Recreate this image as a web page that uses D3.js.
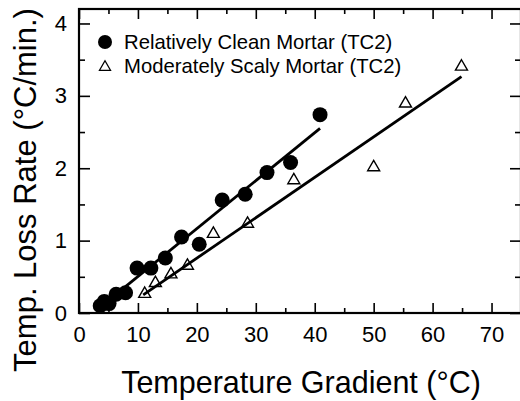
<!DOCTYPE html>
<html>
<head>
<meta charset="utf-8">
<script src="https://cdn.jsdelivr.net/npm/d3@7"></script>
<style>
  html, body { margin: 0; padding: 0; background: #fff; }
  svg { display: block; }
  svg text { font-family: "Liberation Sans", Arial, Helvetica, sans-serif; }
</style>
</head>
<body>
<svg id="chart" width="520" height="401"></svg>
<script>
// Relatively clean mortar (TC2): temperature gradient (°C) vs temperature loss rate (°C/min)
const cleanGradient = [3.6, 4.3, 5.1, 6.3, 7.9, 9.85, 12.2, 14.65, 17.4, 20.4, 24.3, 28.2, 31.9, 35.9, 40.9];
const cleanRate     = [0.10, 0.16, 0.13, 0.26, 0.28, 0.62, 0.62, 0.76, 1.05, 0.95, 1.56, 1.64, 1.94, 2.08, 2.74];

// Moderately scaly mortar (TC2)
const scalyGradient = [11.15, 12.96, 15.6, 18.4, 22.8, 28.6, 36.45, 50.0, 55.4, 64.9];
const scalyRate     = [0.28, 0.43, 0.55, 0.67, 1.11, 1.25, 1.85, 2.03, 2.91, 3.42];

// Linear fit lines: end points [gradient, rate]
const cleanFitX = [3.6, 40.9];
const cleanFitY = [0.08, 2.55];
const scalyFitX = [10.9, 64.9];
const scalyFitY = [0.25, 3.265];

// Axis ticks
const xMajorTicks = [0, 10, 20, 30, 40, 50, 60, 70];
const xMinorTicks = [5, 15, 25, 35, 45, 55, 65];
const yMajorTicks = [0, 1, 2, 3, 4];
const yMinorTicks = [0.5, 1.5, 2.5, 3.5];

const seriesNames = ["Relatively Clean Mortar (TC2)", "Moderately Scaly Mortar (TC2)"];
const xTitle = "Temperature Gradient (°C)";
const yTitle = "Temp. Loss Rate (°C/min.)";

const FONT = "'Liberation Sans', Arial, Helvetica, sans-serif";

const svg = d3.select("#chart");
const plotLeft = 79, plotRight = 521, plotTop = 9, plotBottom = 313;

const x = d3.scaleLinear().domain([0, 75]).range([plotLeft, plotRight]);
const y = d3.scaleLinear().domain([0, 4.2]).range([plotBottom, plotTop]);

const majorLen = 10, minorLen = 5;

function styleAxis(g) {
  g.attr("font-family", FONT);
  g.select(".domain").remove();
  g.selectAll(".tick line").attr("stroke", "#000").attr("stroke-width", 1.6);
  g.selectAll("text").attr("fill", "#000").attr("font-size", 22);
}

// Bottom axis with labels
svg.append("g")
  .attr("transform", `translate(0,${plotBottom})`)
  .call(d3.axisBottom(x).tickValues(xMajorTicks).tickSize(-majorLen).tickPadding(13).tickFormat(d3.format("d")))
  .call(styleAxis);
svg.append("g")
  .attr("transform", `translate(0,${plotBottom})`)
  .call(d3.axisBottom(x).tickValues(xMinorTicks).tickSize(-minorLen).tickFormat(""))
  .call(styleAxis);

// Top axis (ticks only)
svg.append("g")
  .attr("transform", `translate(0,${plotTop})`)
  .call(d3.axisTop(x).tickValues(xMajorTicks).tickSize(-majorLen).tickFormat(""))
  .call(styleAxis);
svg.append("g")
  .attr("transform", `translate(0,${plotTop})`)
  .call(d3.axisTop(x).tickValues(xMinorTicks).tickSize(-minorLen).tickFormat(""))
  .call(styleAxis);

// Left axis with labels
svg.append("g")
  .attr("transform", `translate(${plotLeft},0)`)
  .call(d3.axisLeft(y).tickValues(yMajorTicks).tickSize(-majorLen - 1).tickPadding(12).tickFormat(d3.format("d")))
  .call(styleAxis);
svg.append("g")
  .attr("transform", `translate(${plotLeft},0)`)
  .call(d3.axisLeft(y).tickValues(yMinorTicks).tickSize(-minorLen - 1).tickFormat(""))
  .call(styleAxis);

// Right axis (ticks only)
svg.append("g")
  .attr("transform", `translate(${plotRight},0)`)
  .call(d3.axisRight(y).tickValues(yMajorTicks).tickSize(-majorLen - 1).tickFormat(""))
  .call(styleAxis);
svg.append("g")
  .attr("transform", `translate(${plotRight},0)`)
  .call(d3.axisRight(y).tickValues(yMinorTicks).tickSize(-minorLen - 1).tickFormat(""))
  .call(styleAxis);

// Plot frame
svg.append("rect")
  .attr("x", plotLeft).attr("y", plotTop)
  .attr("width", plotRight - plotLeft).attr("height", plotBottom - plotTop)
  .attr("fill", "none").attr("stroke", "#000").attr("stroke-width", 2.2);

// Fit lines
const line = d3.line().x(d => x(d[0])).y(d => y(d[1]));
svg.append("path")
  .datum(d3.zip(cleanFitX, cleanFitY))
  .attr("d", line)
  .attr("fill", "none").attr("stroke", "#000").attr("stroke-width", 2.8);
svg.append("path")
  .datum(d3.zip(scalyFitX, scalyFitY))
  .attr("d", line)
  .attr("fill", "none").attr("stroke", "#000").attr("stroke-width", 2.8);

// Triangle marker (apex up, centred on the point)
function triPath(cx, cy, s) {
  const h = s * Math.sqrt(3) / 2;
  return `M${cx},${cy - h * 0.55}L${cx + s / 2},${cy + h * 0.45}L${cx - s / 2},${cy + h * 0.45}Z`;
}

// Scaly mortar points
svg.append("g").selectAll("path")
  .data(d3.zip(scalyGradient, scalyRate))
  .join("path")
  .attr("d", d => triPath(x(d[0]), y(d[1]), 12))
  .attr("fill", "none").attr("stroke", "#000").attr("stroke-width", 1.4);

// Clean mortar points
svg.append("g").selectAll("circle")
  .data(d3.zip(cleanGradient, cleanRate))
  .join("circle")
  .attr("cx", d => x(d[0])).attr("cy", d => y(d[1]))
  .attr("r", 7.5).attr("fill", "#000");

// Legend
const legend = svg.append("g").attr("font-family", FONT);
legend.append("circle").attr("cx", 105).attr("cy", 42).attr("r", 7).attr("fill", "#000");
legend.append("path").attr("d", triPath(105, 66, 11))
  .attr("fill", "none").attr("stroke", "#000").attr("stroke-width", 1.3);
legend.selectAll("text")
  .data(seriesNames)
  .join("text")
  .attr("x", 124).attr("y", (d, i) => 49 + i * 23.5)
  .attr("font-size", 20.3).attr("fill", "#000")
  .text(d => d);

// Axis titles
svg.append("text")
  .attr("x", 301).attr("y", 393)
  .attr("text-anchor", "middle")
  .attr("font-family", FONT)
  .attr("font-size", 30.5).attr("fill", "#000")
  .text(xTitle);
svg.append("text")
  .attr("transform", "translate(36,190) rotate(-90)")
  .attr("text-anchor", "middle")
  .attr("font-family", FONT)
  .attr("font-size", 31).attr("fill", "#000")
  .text(yTitle);
</script>
</body>
</html>
